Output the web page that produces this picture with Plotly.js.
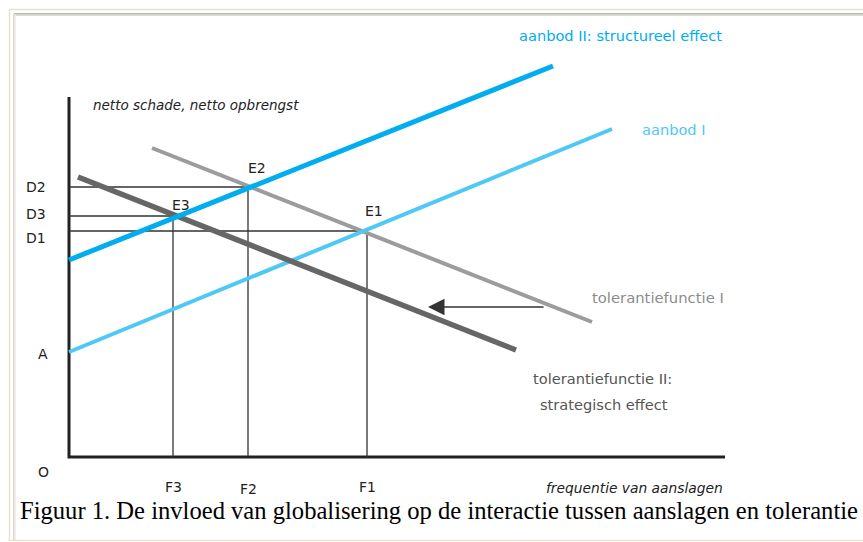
<!DOCTYPE html>
<html>
<head>
<meta charset="utf-8">
<script src="https://cdn.plot.ly/plotly-3.0.1.min.js"></script>
<style>
html,body{margin:0;padding:0;background:#fff;}
#chart{width:863px;height:542px;}
</style>
</head>
<body>
<div id="chart"></div>
<script>
// ---- data (diagram units: origin O at the axes' corner) ----
const axisXEnd = 656;          // length of horizontal axis
const axisYTop = 360;          // length of vertical axis
const supplyI_x = [0, 543];
const supplyI_y = [105, 328];
const supplyII_x = [0, 484];
const supplyII_y = [197, 391];
const tolI_x = [83, 523];
const tolI_y = [309, 135];
const tolII_x = [9, 447];
const tolII_y = [280, 107];
const eqNames = ['E1', 'E2', 'E3'];
const eqF = [298, 179, 104];   // F1, F2, F3
const eqD = [226, 270, 241];   // D1, D2, D3
const fLabels = ['F1', 'F2', 'F3'];
const dLabels = ['D1', 'D2', 'D3'];
const interceptA = 105;
const shiftArrow = {from: 476, to: 359, level: 150};

const W = 863, H = 542;
const X0 = 69, Y0 = 457; // pixel of origin (layout only)

const traces = [];
// axes
traces.push({x:[0,0,axisXEnd], y:[axisYTop,0,0], mode:'lines', line:{color:'#222', width:3}, hoverinfo:'skip'});
// guide lines
for (let i=0;i<eqF.length;i++){
  traces.push({x:[0,eqF[i],eqF[i]], y:[eqD[i],eqD[i],0], mode:'lines', line:{color:'#333', width:1.3}, hoverinfo:'skip'});
}
traces.push({x:tolI_x, y:tolI_y, mode:'lines', line:{color:'#9c9c9c', width:4}, hoverinfo:'skip'});
traces.push({x:supplyI_x, y:supplyI_y, mode:'lines', line:{color:'#4ec8f4', width:4}, hoverinfo:'skip'});
traces.push({x:tolII_x, y:tolII_y, mode:'lines', line:{color:'#666666', width:5.5}, hoverinfo:'skip'});
traces.push({x:supplyII_x, y:supplyII_y, mode:'lines', line:{color:'#00adef', width:5}, hoverinfo:'skip'});

const sans = 'DejaVu Sans, Liberation Sans, sans-serif';
function lab(text, x, y, opts){
  return Object.assign({text:text, x:x, y:y, xref:'x', yref:'y', showarrow:false,
    font:{family:sans, size:14, color:'#222'}, xanchor:'center', yanchor:'middle'}, opts||{});
}
const ann = [];
// D labels
const dShift = [-7, 0, 2];
for (let i=0;i<dLabels.length;i++) ann.push(lab(dLabels[i], -33, eqD[i], {yshift:dShift[i]}));
ann.push(lab('A', -26, interceptA, {yshift:-2}));
ann.push(lab('O', -26, 0, {yshift:-15}));
// F labels
const fShift = [-30, -32, -30];
for (let i=0;i<fLabels.length;i++) ann.push(lab(fLabels[i], eqF[i], 0, {yshift:fShift[i]}));
// E labels
const eShift = [[7,20],[9,19],[8,11]];
for (let i=0;i<eqNames.length;i++) ann.push(lab(eqNames[i], eqF[i], eqD[i], {xshift:eShift[i][0], yshift:eShift[i][1]}));
// curve labels
ann.push(lab('aanbod II: structureel effect', 448, 422, {xanchor:'left', font:{family:sans, size:14.6, color:'#00adef'}}));
ann.push(lab('aanbod I', 571, 328, {xanchor:'left', font:{family:sans, size:14.6, color:'#4ec8f4'}}));
ann.push(lab('tolerantiefunctie I', 521, 160, {xanchor:'left', font:{family:sans, size:14.8, color:'#8c8c8c'}}));
ann.push(lab('tolerantiefunctie II:', 462, 79, {xanchor:'left', font:{family:sans, size:14.6, color:'#555'}}));
ann.push(lab('strategisch effect', 469, 53, {xanchor:'left', font:{family:sans, size:14.6, color:'#555'}}));
ann.push(lab('<i>netto schade, netto opbrengst</i>', 22, 352, {xanchor:'left', font:{family:sans, size:13.5, color:'#222'}}));
ann.push(lab('<i>frequentie van aanslagen</i>', axisXEnd, 0, {xanchor:'right', yshift:-31, font:{family:sans, size:13.8, color:'#222'}}));
// shift arrow
ann.push({x:shiftArrow.to, y:shiftArrow.level, ax:shiftArrow.from, ay:shiftArrow.level, xref:'x', yref:'y', axref:'x', ayref:'y',
  showarrow:true, arrowhead:2, arrowsize:2.2, arrowwidth:1.5, arrowcolor:'#333', text:'', standoff:0});
// caption
ann.push({text:'Figuur 1. De invloed van globalisering op de interactie tussen aanslagen en tolerantie',
  xref:'paper', yref:'paper', x:439/W, y:1-510/H, xanchor:'center', yanchor:'middle', showarrow:false,
  font:{family:'Liberation Serif, Times New Roman, serif', size:24.6, color:'#000'}});

const px = v => v/W, py = v => 1 - v/H;
const shapes = [
  {type:'rect', xref:'paper', yref:'paper', x0:px(9.5), y0:py(9.5), x1:px(W+20), y1:py(540.5), line:{color:'#e6e2cf', width:1.5}},
  {type:'line', xref:'paper', yref:'paper', x0:px(14), y0:py(13.8), x1:px(W+20), y1:py(13.8), line:{color:'#a3a3a0', width:1.3}},
  {type:'line', xref:'paper', yref:'paper', x0:px(14), y0:py(15.2), x1:px(W+20), y1:py(15.2), line:{color:'#d4d0c8', width:1.2}},
  {type:'line', xref:'paper', yref:'paper', x0:px(13.8), y0:py(14), x1:px(13.8), y1:py(540), line:{color:'#d4d0c8', width:1.3}},
  {type:'line', xref:'paper', yref:'paper', x0:px(15.2), y0:py(14), x1:px(15.2), y1:py(540), line:{color:'#ecebe6', width:1.2}}
];

const layout = {
  width:W, height:H, margin:{l:0,r:0,t:0,b:0}, showlegend:false,
  paper_bgcolor:'#fff', plot_bgcolor:'#fff',
  xaxis:{range:[-X0, W-X0], visible:false, fixedrange:true},
  yaxis:{range:[Y0-H, Y0], visible:false, fixedrange:true},
  annotations:ann, shapes:shapes
};
Plotly.newPlot('chart', traces, layout, {staticPlot:true, displayModeBar:false});
</script>
</body>
</html>
